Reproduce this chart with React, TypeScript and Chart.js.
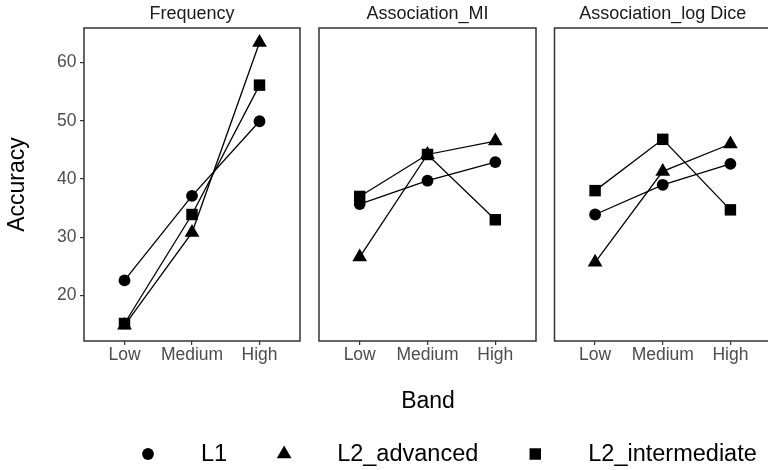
import { useEffect, useRef } from "react";
import { Chart, registerables } from "chart.js";
import { drawPoint } from "chart.js/helpers";

Chart.register(...registerables);

// ---------- data ----------
const bands = ["Low", "Medium", "High"];
const facets = ["Frequency", "Association_MI", "Association_log Dice"];
const groups = ["L1", "L2_advanced", "L2_intermediate"];
const groupMarkers = ["circle", "triangle", "rect"];
const groupRadius = [5.9, 8.5, 8.1];

const frequencyL1 = [22.6, 37.1, 49.9];
const frequencyL2Advanced = [14.9, 30.8, 63.4];
const frequencyL2Intermediate = [15.2, 33.9, 56.1];

const miL1 = [35.7, 39.7, 42.9];
const miL2Advanced = [26.6, 44.2, 46.5];
const miL2Intermediate = [37.0, 44.2, 33.0];

const diceL1 = [33.9, 39.0, 42.6];
const diceL2Advanced = [25.7, 41.3, 46.0];
const diceL2Intermediate = [38.0, 46.8, 34.7];

const yTicks = [20, 30, 40, 50, 60];
const yMin = 12.2;
const yMax = 65.9;

const FONT = "'Liberation Sans', Arial, Helvetica, sans-serif";

const framePlugin = {
  id: "panelFrame",
  afterDraw(chart: any) {
    const { ctx, chartArea: a } = chart;
    ctx.save();
    ctx.strokeStyle = "#333333";
    ctx.lineWidth = 1.5;
    ctx.strokeRect(a.left, a.top, a.right - a.left, a.bottom - a.top);
    ctx.restore();
  },
};

type PanelProps = {
  title: string;
  series: number[][];
  left: number;
  width: number;
  padLeft: number;
  padRight: number;
  showY: boolean;
};

const PANEL_H = 372;

function Panel({ title, series, left, width, padLeft, padRight, showY }: PanelProps) {
  const ref = useRef<HTMLCanvasElement>(null);
  useEffect(() => {
    const chart = new Chart(ref.current!, {
      type: "line",
      data: {
        datasets: groups.map((g, i) => ({
          label: g,
          data: series[i].map((v, j) => ({ x: j, y: v })),
          borderColor: "#000000",
          borderWidth: 1.3,
          pointStyle: groupMarkers[i] as any,
          pointRadius: groupRadius[i],
          pointHoverRadius: groupRadius[i],
          pointBackgroundColor: "#000000",
          pointBorderColor: "#000000",
          pointBorderWidth: 0,
          tension: 0,
          clip: false as any,
        })),
      },
      options: {
        animation: false,
        responsive: false,
        maintainAspectRatio: false,
        events: [],
        layout: { padding: { left: padLeft, right: padRight, top: 0, bottom: 0 } },
        plugins: {
          legend: { display: false },
          tooltip: { enabled: false },
          title: {
            display: true,
            text: title,
            fullSize: false,
            color: "#1a1a1a",
            font: { family: FONT, size: 18, weight: "normal", lineHeight: 1.2 },
            padding: { top: 3, bottom: 3.4 },
          },
        },
        scales: {
          x: {
            type: "linear",
            min: -0.6,
            max: 2.6,
            afterBuildTicks: (s: any) => {
              s.ticks = bands.map((_, i) => ({ value: i }));
            },
            afterFit: (s: any) => {
              s.height = PANEL_H - 341;
            },
            ticks: {
              callback: (v: any) => bands[Math.round(Number(v))] ?? "",
              color: "#4d4d4d",
              font: { family: FONT, size: 17.5, lineHeight: 1 },
              padding: 1.5,
              maxRotation: 0,
              autoSkip: false,
            },
            grid: { drawOnChartArea: false, drawTicks: true, tickLength: 4, color: "#333333", lineWidth: 1.2 },
            border: { display: false },
          },
          y: {
            display: showY,
            min: yMin,
            max: yMax,
            afterBuildTicks: (s: any) => {
              s.ticks = yTicks.map((v) => ({ value: v }));
            },
            afterFit: (s: any) => {
              s.width = showY ? 84 : 0;
            },
            ticks: {
              color: "#4d4d4d",
              font: { family: FONT, size: 17.5 },
              padding: 3.5,
            },
            grid: { drawOnChartArea: false, drawTicks: true, tickLength: 4, color: "#333333", lineWidth: 1.2 },
            border: { display: false },
            title: {
              display: true,
              text: "Accuracy",
              color: "#000000",
              font: { family: FONT, size: 23, lineHeight: 1.2 },
              padding: { top: 3.5, bottom: 0 },
            },
          },
        },
      },
      plugins: [framePlugin],
    });
    return () => chart.destroy();
  }, []);
  return (
    <canvas
      ref={ref}
      width={width}
      height={PANEL_H}
      style={{ position: "absolute", left, top: 0, width, height: PANEL_H }}
    />
  );
}

const footerPlugin = {
  id: "footerText",
  afterDraw(chart: any) {
    const ctx = chart.ctx as CanvasRenderingContext2D;
    ctx.save();
    ctx.fillStyle = "#000000";
    ctx.textBaseline = "middle";
    ctx.textAlign = "center";
    ctx.font = `23px ${FONT}`;
    ctx.fillText("Band", 428, 30);
    ctx.textAlign = "left";
    let x = 148;
    const y = 82;
    groups.forEach((g, i) => {
      ctx.fillStyle = "#000000";
      drawPoint(ctx, { pointStyle: groupMarkers[i] as any, radius: groupRadius[i], rotation: 0, borderWidth: 0 } as any, x, y);
      const lx = x + 53;
      ctx.fillStyle = "#000000";
      ctx.font = `23.5px ${FONT}`;
      ctx.fillText(g, lx, y + 1);
      x = lx + ctx.measureText(g).width + 57;
    });
    ctx.restore();
  },
};

function Footer() {
  const ref = useRef<HTMLCanvasElement>(null);
  useEffect(() => {
    const chart = new Chart(ref.current!, {
      type: "line",
      data: { labels: [], datasets: [] },
      options: {
        animation: false,
        responsive: false,
        maintainAspectRatio: false,
        events: [],
        plugins: { legend: { display: false }, tooltip: { enabled: false } },
        scales: { x: { display: false }, y: { display: false } },
      },
      plugins: [footerPlugin],
    });
    return () => chart.destroy();
  }, []);
  return (
    <canvas
      ref={ref}
      width={768}
      height={470 - PANEL_H}
      style={{ position: "absolute", left: 0, top: PANEL_H, width: 768, height: 470 - PANEL_H }}
    />
  );
}

export default function App() {
  return (
    <div
      style={{
        position: "fixed",
        left: 0,
        top: 0,
        width: 768,
        height: 470,
        overflow: "hidden",
        background: "#ffffff",
      }}
    >
      <Panel
        title={facets[0]}
        series={[frequencyL1, frequencyL2Advanced, frequencyL2Intermediate]}
        left={0}
        width={310}
        padLeft={0}
        padRight={10}
        showY={true}
      />
      <Panel
        title={facets[1]}
        series={[miL1, miL2Advanced, miL2Intermediate]}
        left={310}
        width={236}
        padLeft={9}
        padRight={10}
        showY={false}
      />
      <Panel
        title={facets[2]}
        series={[diceL1, diceL2Advanced, diceL2Intermediate]}
        left={546}
        width={240}
        padLeft={8}
        padRight={15}
        showY={false}
      />
      <Footer />
    </div>
  );
}
